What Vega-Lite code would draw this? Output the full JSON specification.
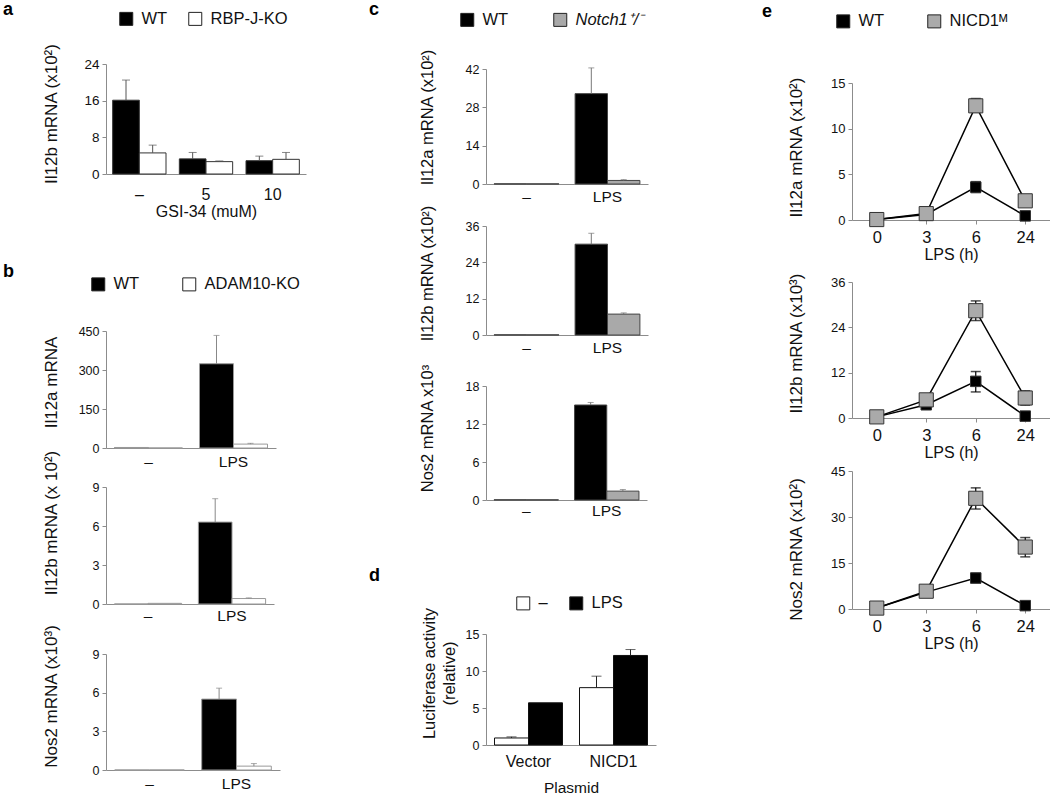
{
  "$schema": "https://vega.github.io/schema/vega-lite/v6.json",
  "padding": {"left": 3, "top": 0, "right": 5, "bottom": 5},
  "background": "#ffffff",
  "config": {
    "font": "Liberation Sans",
    "view": {"stroke": null},
    "axis": {"domainColor": "#8c8c8c", "tickColor": "#8c8c8c", "labelColor": "#111111", "titleColor": "#111111", "labelFont": "Liberation Sans", "titleFont": "Liberation Sans", "titleFontWeight": "normal", "grid": false, "tickSize": 4, "labelPadding": 3},
    "axisX": {"labelAngle": 0},
    "axisBand": {"ticks": false},
    "legend": {"orient": "none", "direction": "horizontal", "symbolType": "square", "symbolSize": 169, "symbolStrokeColor": "#222222", "symbolStrokeWidth": 1, "labelFont": "Liberation Sans", "labelFontSize": 16.5, "labelColor": "#111111", "labelOffset": 7, "padding": 0},
    "title": {"font": "Liberation Sans", "fontSize": 18, "fontWeight": "bold", "anchor": "start", "frame": "group", "color": "#000000"}
  },
  "datasets": {
    "a": [
      {"cat": "–", "grp": "WT", "v": 16.1, "hi": 20.5},
      {"cat": "–", "grp": "RBP-J-KO", "v": 4.6, "hi": 6.3},
      {"cat": "5", "grp": "WT", "v": 3.3, "hi": 4.7},
      {"cat": "5", "grp": "RBP-J-KO", "v": 2.7, "hi": 2.85},
      {"cat": "10", "grp": "WT", "v": 2.9, "hi": 3.9},
      {"cat": "10", "grp": "RBP-J-KO", "v": 3.2, "hi": 4.7}
    ],
    "b1": [
      {"cat": "–", "grp": "WT", "v": 2, "hi": 2},
      {"cat": "–", "grp": "ADAM10-KO", "v": 0, "hi": 0},
      {"cat": "LPS", "grp": "WT", "v": 324, "hi": 433},
      {"cat": "LPS", "grp": "ADAM10-KO", "v": 15, "hi": 18}
    ],
    "b2": [
      {"cat": "–", "grp": "WT", "v": 0, "hi": 0},
      {"cat": "–", "grp": "ADAM10-KO", "v": 0.05, "hi": 0.05},
      {"cat": "LPS", "grp": "WT", "v": 6.3, "hi": 8.1},
      {"cat": "LPS", "grp": "ADAM10-KO", "v": 0.42, "hi": 0.47}
    ],
    "b3": [
      {"cat": "–", "grp": "WT", "v": 0, "hi": 0},
      {"cat": "–", "grp": "ADAM10-KO", "v": 0, "hi": 0},
      {"cat": "LPS", "grp": "WT", "v": 5.5, "hi": 6.35},
      {"cat": "LPS", "grp": "ADAM10-KO", "v": 0.3, "hi": 0.5}
    ],
    "c1": [
      {"cat": "–", "grp": "WT", "v": 0.05, "hi": 0.05},
      {"cat": "–", "grp": "Notch1⁺/⁻", "v": 0.05, "hi": 0.05},
      {"cat": "LPS", "grp": "WT", "v": 33, "hi": 42.4},
      {"cat": "LPS", "grp": "Notch1⁺/⁻", "v": 1.3, "hi": 1.6}
    ],
    "c2": [
      {"cat": "–", "grp": "WT", "v": 0.05, "hi": 0.05},
      {"cat": "–", "grp": "Notch1⁺/⁻", "v": 0.05, "hi": 0.05},
      {"cat": "LPS", "grp": "WT", "v": 30, "hi": 33.6},
      {"cat": "LPS", "grp": "Notch1⁺/⁻", "v": 6.9, "hi": 7.3}
    ],
    "c3": [
      {"cat": "–", "grp": "WT", "v": 0.03, "hi": 0.03},
      {"cat": "–", "grp": "Notch1⁺/⁻", "v": 0.03, "hi": 0.03},
      {"cat": "LPS", "grp": "WT", "v": 15, "hi": 15.4},
      {"cat": "LPS", "grp": "Notch1⁺/⁻", "v": 1.4, "hi": 1.65}
    ],
    "d": [
      {"cat": "Vector", "grp": "–", "v": 0.95, "hi": 1.1},
      {"cat": "Vector", "grp": "LPS", "v": 5.7, "hi": 5.7},
      {"cat": "NICD1", "grp": "–", "v": 7.75, "hi": 9.3},
      {"cat": "NICD1", "grp": "LPS", "v": 12.1, "hi": 12.9}
    ],
    "e1": [
      {"t": "0", "grp": "WT", "v": 0.05, "lo": 0.05, "hi": 0.05},
      {"t": "3", "grp": "WT", "v": 0.6, "lo": 0.6, "hi": 0.6},
      {"t": "6", "grp": "WT", "v": 3.6, "lo": 3.0, "hi": 4.2},
      {"t": "24", "grp": "WT", "v": 0.45, "lo": 0.45, "hi": 0.45},
      {"t": "0", "grp": "NICD1ᴹ", "v": 0.05, "lo": 0.05, "hi": 0.05},
      {"t": "3", "grp": "NICD1ᴹ", "v": 0.7, "lo": 0.7, "hi": 0.7},
      {"t": "6", "grp": "NICD1ᴹ", "v": 12.5, "lo": 11.8, "hi": 13.3},
      {"t": "24", "grp": "NICD1ᴹ", "v": 2.1, "lo": 1.8, "hi": 2.4}
    ],
    "e2": [
      {"t": "0", "grp": "WT", "v": 0.3, "lo": 0.3, "hi": 0.3},
      {"t": "3", "grp": "WT", "v": 3.5, "lo": 3.5, "hi": 3.5},
      {"t": "6", "grp": "WT", "v": 9.7, "lo": 6.9, "hi": 12.3},
      {"t": "24", "grp": "WT", "v": 0.5, "lo": 0.5, "hi": 0.5},
      {"t": "0", "grp": "NICD1ᴹ", "v": 0.3, "lo": 0.3, "hi": 0.3},
      {"t": "3", "grp": "NICD1ᴹ", "v": 4.8, "lo": 4.8, "hi": 4.8},
      {"t": "6", "grp": "NICD1ᴹ", "v": 28.4, "lo": 25.8, "hi": 31},
      {"t": "24", "grp": "NICD1ᴹ", "v": 5.3, "lo": 3.4, "hi": 7.2}
    ],
    "e3": [
      {"t": "0", "grp": "WT", "v": 0.3, "lo": 0.3, "hi": 0.3},
      {"t": "3", "grp": "WT", "v": 5.5, "lo": 5.5, "hi": 5.5},
      {"t": "6", "grp": "WT", "v": 10.1, "lo": 8.6, "hi": 11.6},
      {"t": "24", "grp": "WT", "v": 1.1, "lo": 1.1, "hi": 1.1},
      {"t": "0", "grp": "NICD1ᴹ", "v": 0.3, "lo": 0.3, "hi": 0.3},
      {"t": "3", "grp": "NICD1ᴹ", "v": 5.8, "lo": 5.8, "hi": 5.8},
      {"t": "6", "grp": "NICD1ᴹ", "v": 36.1, "lo": 32.6, "hi": 39.5},
      {"t": "24", "grp": "NICD1ᴹ", "v": 20.2, "lo": 17, "hi": 23.3}
    ],
    "sp": [{"s": 0}]
  },
  "resolve": {"scale": {"fill": "independent", "xOffset": "independent"}, "legend": {"fill": "independent"}},
  "spacing": 63,
  "hconcat": [
    {
      "vconcat": [
        {
          "width": 200, "height": 110,
          "data": {"name": "a"},
          "title": {"text": "a", "dx": -103, "offset": -8},
          "encoding": {
            "x": {"field": "cat", "type": "nominal", "sort": ["–", "5", "10"], "scale": {"type": "band", "paddingInner": 0.2, "paddingOuter": 0.1}, "axis": {"title": "GSI-34 (muM)", "labelFontSize": 16, "labelPadding": 12, "titleFontSize": 16, "titlePadding": 1}},
            "xOffset": {"field": "grp", "type": "nominal", "sort": ["WT", "RBP-J-KO"], "scale": {"type": "band", "paddingInner": 0, "paddingOuter": 0}},
            "y": {"field": "v", "type": "quantitative", "scale": {"domain": [0, 24], "nice": false}, "axis": {"values": [0, 8, 16, 24], "title": "Il12b mRNA (x10²)", "labelFontSize": 13.5, "titleFontSize": 17, "titleX": -45.5, "titleY": 49.5}}
          },
          "layer": [
            {"mark": {"type": "bar", "stroke": "#333333", "strokeWidth": 1}, "encoding": {"fill": {"field": "grp", "type": "nominal", "sort": ["WT", "RBP-J-KO"], "scale": {"domain": ["WT", "RBP-J-KO"], "range": ["#000000", "#ffffff"]}, "legend": {"title": null, "orient": "none", "legendX": 12, "legendY": -53.5, "columnPadding": 18}}}},
            {"transform": [{"filter": "datum.hi > datum.v"}], "mark": {"type": "rule", "color": "#555555", "strokeWidth": 1}, "encoding": {"y2": {"field": "hi"}}},
            {"transform": [{"filter": "datum.hi > datum.v"}], "mark": {"type": "tick", "color": "#555555", "size": 8, "thickness": 1}, "encoding": {"y": {"field": "hi", "type": "quantitative"}}}
          ]
        },
        {"width": 10, "height": 157, "data": {"name": "sp"}, "mark": {"type": "point", "opacity": 0}},
        {
          "width": 170, "height": 117,
          "data": {"name": "b1"},
          "title": {"text": "b", "dx": -103, "offset": -5},
          "encoding": {
            "x": {"field": "cat", "type": "nominal", "sort": ["–", "LPS"], "scale": {"type": "band", "paddingInner": 0.2, "paddingOuter": 0.1}, "axis": {"title": null, "labelFontSize": 15.5, "labelPadding": 6.5}},
            "xOffset": {"field": "grp", "type": "nominal", "sort": ["WT", "ADAM10-KO"], "scale": {"type": "band", "paddingInner": 0, "paddingOuter": 0}},
            "y": {"field": "v", "type": "quantitative", "scale": {"domain": [0, 450], "nice": false}, "axis": {"values": [0, 150, 300, 450], "title": "Il12a mRNA", "labelFontSize": 12.5, "titleFontSize": 17, "titleX": -45.5, "titleY": 51}}
          },
          "layer": [
            {"mark": {"type": "bar", "stroke": "#999999", "strokeWidth": 1}, "encoding": {"fill": {"field": "grp", "type": "nominal", "sort": ["WT", "ADAM10-KO"], "scale": {"domain": ["WT", "ADAM10-KO"], "range": ["#000000", "#ffffff"]}, "legend": {"title": null, "orient": "none", "legendX": -16, "legendY": -55, "columnPadding": 40}}}},
            {"transform": [{"filter": "datum.hi > datum.v"}], "mark": {"type": "rule", "color": "#888888", "strokeWidth": 1}, "encoding": {"y2": {"field": "hi"}}},
            {"transform": [{"filter": "datum.hi > datum.v"}], "mark": {"type": "tick", "color": "#888888", "size": 6, "thickness": 1}, "encoding": {"y": {"field": "hi", "type": "quantitative"}}}
          ]
        },
        {"width": 10, "height": 39, "data": {"name": "sp"}, "mark": {"type": "point", "opacity": 0}},
        {
          "width": 168, "height": 117,
          "data": {"name": "b2"},
          "encoding": {
            "x": {"field": "cat", "type": "nominal", "sort": ["–", "LPS"], "scale": {"type": "band", "paddingInner": 0.2, "paddingOuter": 0.1}, "axis": {"title": null, "labelFontSize": 15.5, "labelPadding": 4.7}},
            "xOffset": {"field": "grp", "type": "nominal", "sort": ["WT", "ADAM10-KO"], "scale": {"type": "band", "paddingInner": 0, "paddingOuter": 0}},
            "y": {"field": "v", "type": "quantitative", "scale": {"domain": [0, 9], "nice": false}, "axis": {"values": [0, 3, 6, 9], "title": "Il12b mRNA (x 10²)", "labelFontSize": 12.5, "titleFontSize": 17, "titleX": -45.5, "titleY": 35.5}}
          },
          "layer": [
            {"mark": {"type": "bar", "stroke": "#999999", "strokeWidth": 1}, "encoding": {"fill": {"field": "grp", "type": "nominal", "sort": ["WT", "ADAM10-KO"], "scale": {"domain": ["WT", "ADAM10-KO"], "range": ["#000000", "#ffffff"]}, "legend": null}}},
            {"transform": [{"filter": "datum.hi > datum.v"}], "mark": {"type": "rule", "color": "#888888", "strokeWidth": 1}, "encoding": {"y2": {"field": "hi"}}},
            {"transform": [{"filter": "datum.hi > datum.v"}], "mark": {"type": "tick", "color": "#888888", "size": 6, "thickness": 1}, "encoding": {"y": {"field": "hi", "type": "quantitative"}}}
          ]
        },
        {"width": 10, "height": 50, "data": {"name": "sp"}, "mark": {"type": "point", "opacity": 0}},
        {
          "width": 174, "height": 116,
          "data": {"name": "b3"},
          "encoding": {
            "x": {"field": "cat", "type": "nominal", "sort": ["–", "LPS"], "scale": {"type": "band", "paddingInner": 0.2, "paddingOuter": 0.1}, "axis": {"title": null, "labelFontSize": 15.5, "labelPadding": 6.7}},
            "xOffset": {"field": "grp", "type": "nominal", "sort": ["WT", "ADAM10-KO"], "scale": {"type": "band", "paddingInner": 0, "paddingOuter": 0}},
            "y": {"field": "v", "type": "quantitative", "scale": {"domain": [0, 9], "nice": false}, "axis": {"values": [0, 3, 6, 9], "title": "Nos2 mRNA (x10³)", "labelFontSize": 12.5, "titleFontSize": 17, "titleX": -45.5, "titleY": 42}}
          },
          "layer": [
            {"mark": {"type": "bar", "stroke": "#999999", "strokeWidth": 1}, "encoding": {"fill": {"field": "grp", "type": "nominal", "sort": ["WT", "ADAM10-KO"], "scale": {"domain": ["WT", "ADAM10-KO"], "range": ["#000000", "#ffffff"]}, "legend": null}}},
            {"transform": [{"filter": "datum.hi > datum.v"}], "mark": {"type": "rule", "color": "#888888", "strokeWidth": 1}, "encoding": {"y2": {"field": "hi"}}},
            {"transform": [{"filter": "datum.hi > datum.v"}], "mark": {"type": "tick", "color": "#888888", "size": 6, "thickness": 1}, "encoding": {"y": {"field": "hi", "type": "quantitative"}}}
          ]
        }
      ],
      "spacing": 0,
      "bounds": "flush",
      "resolve": {"scale": {"fill": "independent", "xOffset": "independent"}, "legend": {"fill": "independent"}}
    },
    {
      "spacing": 106,
      "resolve": {"scale": {"fill": "independent", "xOffset": "independent"}, "legend": {"fill": "independent"}},
      "hconcat": [
        {
          "vconcat": [
            {"width": 10, "height": 5, "data": {"name": "sp"}, "mark": {"type": "point", "opacity": 0}},
            {
              "width": 162, "height": 115,
              "data": {"name": "c1"},
              "title": {"text": "c", "dx": -117, "offset": -7},
              "encoding": {
                "x": {"field": "cat", "type": "nominal", "sort": ["–", "LPS"], "scale": {"type": "band", "paddingInner": 0.2, "paddingOuter": 0.1}, "axis": {"title": null, "labelFontSize": 15.5, "labelPadding": 5.7}},
                "xOffset": {"field": "grp", "type": "nominal", "sort": ["WT", "Notch1⁺/⁻"], "scale": {"type": "band", "paddingInner": 0, "paddingOuter": 0}},
                "y": {"field": "v", "type": "quantitative", "scale": {"domain": [0, 42], "nice": false}, "axis": {"values": [0, 14, 28, 42], "title": "Il12a mRNA (x10²)", "labelFontSize": 12.5, "titleFontSize": 16.5, "titleX": -50.7, "titleY": 48}}
              },
              "layer": [
                {"mark": {"type": "bar", "stroke": "#444444", "strokeWidth": 1}, "encoding": {"fill": {"field": "grp", "type": "nominal", "sort": ["WT", "Notch1⁺/⁻"], "scale": {"domain": ["WT", "Notch1⁺/⁻"], "range": ["#000000", "#a9a9a9"]}, "legend": {"title": null, "orient": "none", "legendX": -27, "legendY": -57.5, "columnPadding": 42, "encode": {"labels": {"update": {"fontStyle": {"signal": "datum.label == 'WT' ? 'normal' : 'italic'"}}}}}}}},
                {"transform": [{"filter": "datum.hi > datum.v"}], "mark": {"type": "rule", "color": "#777777", "strokeWidth": 1}, "encoding": {"y2": {"field": "hi"}}},
                {"transform": [{"filter": "datum.hi > datum.v"}], "mark": {"type": "tick", "color": "#777777", "size": 6, "thickness": 1}, "encoding": {"y": {"field": "hi", "type": "quantitative"}}}
              ]
            },
            {"width": 10, "height": 42, "data": {"name": "sp"}, "mark": {"type": "point", "opacity": 0}},
            {
              "width": 162, "height": 109,
              "data": {"name": "c2"},
              "encoding": {
                "x": {"field": "cat", "type": "nominal", "sort": ["–", "LPS"], "scale": {"type": "band", "paddingInner": 0.2, "paddingOuter": 0.1}, "axis": {"title": null, "labelFontSize": 15.5, "labelPadding": 5.7}},
                "xOffset": {"field": "grp", "type": "nominal", "sort": ["WT", "Notch1⁺/⁻"], "scale": {"type": "band", "paddingInner": 0, "paddingOuter": 0}},
                "y": {"field": "v", "type": "quantitative", "scale": {"domain": [0, 36], "nice": false}, "axis": {"values": [0, 12, 24, 36], "title": "Il12b mRNA (x10²)", "labelFontSize": 12.5, "titleFontSize": 16.5, "titleX": -50.7, "titleY": 47}}
              },
              "layer": [
                {"mark": {"type": "bar", "stroke": "#444444", "strokeWidth": 1}, "encoding": {"fill": {"field": "grp", "type": "nominal", "sort": ["WT", "Notch1⁺/⁻"], "scale": {"domain": ["WT", "Notch1⁺/⁻"], "range": ["#000000", "#a9a9a9"]}, "legend": null}}},
                {"transform": [{"filter": "datum.hi > datum.v"}], "mark": {"type": "rule", "color": "#777777", "strokeWidth": 1}, "encoding": {"y2": {"field": "hi"}}},
                {"transform": [{"filter": "datum.hi > datum.v"}], "mark": {"type": "tick", "color": "#777777", "size": 6, "thickness": 1}, "encoding": {"y": {"field": "hi", "type": "quantitative"}}}
              ]
            },
            {"width": 10, "height": 51, "data": {"name": "sp"}, "mark": {"type": "point", "opacity": 0}},
            {
              "width": 161, "height": 114,
              "data": {"name": "c3"},
              "encoding": {
                "x": {"field": "cat", "type": "nominal", "sort": ["–", "LPS"], "scale": {"type": "band", "paddingInner": 0.2, "paddingOuter": 0.1}, "axis": {"title": null, "labelFontSize": 15.5, "labelPadding": 3.7}},
                "xOffset": {"field": "grp", "type": "nominal", "sort": ["WT", "Notch1⁺/⁻"], "scale": {"type": "band", "paddingInner": 0, "paddingOuter": 0}},
                "y": {"field": "v", "type": "quantitative", "scale": {"domain": [0, 18], "nice": false}, "axis": {"values": [0, 6, 12, 18], "title": "Nos2 mRNA x10³", "labelFontSize": 12.5, "titleFontSize": 16.5, "titleX": -50.7, "titleY": 42}}
              },
              "layer": [
                {"mark": {"type": "bar", "stroke": "#444444", "strokeWidth": 1}, "encoding": {"fill": {"field": "grp", "type": "nominal", "sort": ["WT", "Notch1⁺/⁻"], "scale": {"domain": ["WT", "Notch1⁺/⁻"], "range": ["#000000", "#a9a9a9"]}, "legend": null}}},
                {"transform": [{"filter": "datum.hi > datum.v"}], "mark": {"type": "rule", "color": "#777777", "strokeWidth": 1}, "encoding": {"y2": {"field": "hi"}}},
                {"transform": [{"filter": "datum.hi > datum.v"}], "mark": {"type": "tick", "color": "#777777", "size": 6, "thickness": 1}, "encoding": {"y": {"field": "hi", "type": "quantitative"}}}
              ]
            },
            {"width": 10, "height": 134, "data": {"name": "sp"}, "mark": {"type": "point", "opacity": 0}},
            {
              "width": 170, "height": 111,
              "data": {"name": "d"},
              "title": {"text": "d", "dx": -117, "offset": 10},
              "encoding": {
                "x": {"field": "cat", "type": "nominal", "sort": ["Vector", "NICD1"], "scale": {"type": "band", "paddingInner": 0.2, "paddingOuter": 0.1}, "axis": {"title": "Plasmid", "labelFontSize": 16, "labelPadding": 8.4, "titleFontSize": 15.5, "titlePadding": 11}},
                "xOffset": {"field": "grp", "type": "nominal", "sort": ["–", "LPS"], "scale": {"type": "band", "paddingInner": 0, "paddingOuter": 0}},
                "y": {"field": "v", "type": "quantitative", "scale": {"domain": [0, 15], "nice": false}, "axis": {"values": [0, 5, 10, 15], "title": ["Luciferase activity", "(relative)"], "labelFontSize": 12.5, "titleFontSize": 16.5, "titleLineHeight": 20, "titleX": -48.7, "titleY": 39}}
              },
              "layer": [
                {"mark": {"type": "bar", "stroke": "#111111", "strokeWidth": 1}, "encoding": {"fill": {"field": "grp", "type": "nominal", "sort": ["–", "LPS"], "scale": {"domain": ["–", "LPS"], "range": ["#ffffff", "#000000"]}, "legend": {"title": null, "orient": "none", "legendX": 29, "legendY": -39, "columnPadding": 19}}}},
                {"transform": [{"filter": "datum.hi > datum.v"}], "mark": {"type": "rule", "color": "#222222", "strokeWidth": 1}, "encoding": {"y2": {"field": "hi"}}},
                {"transform": [{"filter": "datum.hi > datum.v"}], "mark": {"type": "tick", "color": "#222222", "size": 10, "thickness": 1}, "encoding": {"y": {"field": "hi", "type": "quantitative"}}}
              ]
            }
          ],
          "spacing": 0,
          "bounds": "flush",
          "resolve": {"scale": {"fill": "independent", "xOffset": "independent"}, "legend": {"fill": "independent"}}
        },
        {
          "vconcat": [
            {"width": 10, "height": 19, "data": {"name": "sp"}, "mark": {"type": "point", "opacity": 0}},
            {
              "width": 198, "height": 137,
              "data": {"name": "e1"},
              "title": {"text": "e", "dx": -90, "offset": -8},
              "encoding": {
                "x": {"field": "t", "type": "ordinal", "sort": ["0", "3", "6", "24"], "scale": {"type": "point", "padding": 0.5}, "axis": {"title": "LPS (h)", "ticks": true, "tickSize": 4, "labelFontSize": 16.5, "labelPadding": 5, "titleFontSize": 16, "titlePadding": 1}},
                "y": {"field": "v", "type": "quantitative", "scale": {"domain": [0, 15], "nice": false}, "axis": {"values": [0, 5, 10, 15], "title": "Il12a mRNA (x10²)", "labelFontSize": 13, "titleFontSize": 17, "titleX": -46.5, "titleY": 64}}
              },
              "layer": [
                {"mark": {"type": "line", "color": "#000000", "strokeWidth": 1.5}, "encoding": {"detail": {"field": "grp"}}},
                {"transform": [{"filter": "datum.hi > datum.lo"}], "mark": {"type": "rule", "color": "#000000", "strokeWidth": 1.2}, "encoding": {"y": {"field": "lo", "type": "quantitative"}, "y2": {"field": "hi"}}},
                {"transform": [{"filter": "datum.hi > datum.lo"}], "mark": {"type": "tick", "color": "#000000", "size": 10, "thickness": 1.5}, "encoding": {"y": {"field": "hi", "type": "quantitative"}}},
                {"transform": [{"filter": "datum.hi > datum.lo"}], "mark": {"type": "tick", "color": "#000000", "size": 10, "thickness": 1.5}, "encoding": {"y": {"field": "lo", "type": "quantitative"}}},
                {"mark": {"type": "point", "shape": "square", "filled": true, "stroke": "#333333", "strokeWidth": 1, "opacity": 1}, "encoding": {"fill": {"field": "grp", "type": "nominal", "sort": ["WT", "NICD1ᴹ"], "scale": {"domain": ["WT", "NICD1ᴹ"], "range": ["#000000", "#aaaaaa"]}, "legend": {"title": null, "orient": "none", "legendX": -17, "legendY": -70, "columnPadding": 40, "symbolSize": 169}}, "size": {"condition": {"test": "datum.grp == 'WT'", "value": 110}, "value": 200}}}
              ]
            },
            {"width": 10, "height": 62, "data": {"name": "sp"}, "mark": {"type": "point", "opacity": 0}},
            {
              "width": 198, "height": 136,
              "data": {"name": "e2"},
              "encoding": {
                "x": {"field": "t", "type": "ordinal", "sort": ["0", "3", "6", "24"], "scale": {"type": "point", "padding": 0.5}, "axis": {"title": "LPS (h)", "ticks": true, "tickSize": 4, "labelFontSize": 16.5, "labelPadding": 5, "titleFontSize": 16, "titlePadding": 1}},
                "y": {"field": "v", "type": "quantitative", "scale": {"domain": [0, 36], "nice": false}, "axis": {"values": [0, 12, 24, 36], "title": "Il12b mRNA (x10³)", "labelFontSize": 13, "titleFontSize": 17, "titleX": -46.5, "titleY": 61}}
              },
              "layer": [
                {"mark": {"type": "line", "color": "#000000", "strokeWidth": 1.5}, "encoding": {"detail": {"field": "grp"}}},
                {"transform": [{"filter": "datum.hi > datum.lo"}], "mark": {"type": "rule", "color": "#000000", "strokeWidth": 1.2}, "encoding": {"y": {"field": "lo", "type": "quantitative"}, "y2": {"field": "hi"}}},
                {"transform": [{"filter": "datum.hi > datum.lo"}], "mark": {"type": "tick", "color": "#000000", "size": 10, "thickness": 1.5}, "encoding": {"y": {"field": "hi", "type": "quantitative"}}},
                {"transform": [{"filter": "datum.hi > datum.lo"}], "mark": {"type": "tick", "color": "#000000", "size": 10, "thickness": 1.5}, "encoding": {"y": {"field": "lo", "type": "quantitative"}}},
                {"mark": {"type": "point", "shape": "square", "filled": true, "stroke": "#333333", "strokeWidth": 1, "opacity": 1}, "encoding": {"fill": {"field": "grp", "type": "nominal", "sort": ["WT", "NICD1ᴹ"], "scale": {"domain": ["WT", "NICD1ᴹ"], "range": ["#000000", "#aaaaaa"]}, "legend": null}, "size": {"condition": {"test": "datum.grp == 'WT'", "value": 110}, "value": 200}}}
              ]
            },
            {"width": 10, "height": 53, "data": {"name": "sp"}, "mark": {"type": "point", "opacity": 0}},
            {
              "width": 198, "height": 138,
              "data": {"name": "e3"},
              "encoding": {
                "x": {"field": "t", "type": "ordinal", "sort": ["0", "3", "6", "24"], "scale": {"type": "point", "padding": 0.5}, "axis": {"title": "LPS (h)", "ticks": true, "tickSize": 4, "labelFontSize": 16.5, "labelPadding": 5, "titleFontSize": 16, "titlePadding": 1}},
                "y": {"field": "v", "type": "quantitative", "scale": {"domain": [0, 45], "nice": false}, "axis": {"values": [0, 15, 30, 45], "title": "Nos2 mRNA (x10²)", "labelFontSize": 13, "titleFontSize": 17, "titleX": -46.5, "titleY": 78}}
              },
              "layer": [
                {"mark": {"type": "line", "color": "#000000", "strokeWidth": 1.5}, "encoding": {"detail": {"field": "grp"}}},
                {"transform": [{"filter": "datum.hi > datum.lo"}], "mark": {"type": "rule", "color": "#000000", "strokeWidth": 1.2}, "encoding": {"y": {"field": "lo", "type": "quantitative"}, "y2": {"field": "hi"}}},
                {"transform": [{"filter": "datum.hi > datum.lo"}], "mark": {"type": "tick", "color": "#000000", "size": 10, "thickness": 1.5}, "encoding": {"y": {"field": "hi", "type": "quantitative"}}},
                {"transform": [{"filter": "datum.hi > datum.lo"}], "mark": {"type": "tick", "color": "#000000", "size": 10, "thickness": 1.5}, "encoding": {"y": {"field": "lo", "type": "quantitative"}}},
                {"mark": {"type": "point", "shape": "square", "filled": true, "stroke": "#333333", "strokeWidth": 1, "opacity": 1}, "encoding": {"fill": {"field": "grp", "type": "nominal", "sort": ["WT", "NICD1ᴹ"], "scale": {"domain": ["WT", "NICD1ᴹ"], "range": ["#000000", "#aaaaaa"]}, "legend": null}, "size": {"condition": {"test": "datum.grp == 'WT'", "value": 110}, "value": 200}}}
              ]
            }
          ],
          "spacing": 0,
          "bounds": "flush",
          "resolve": {"scale": {"fill": "independent"}, "legend": {"fill": "independent"}}
        }
      ]
    }
  ]
}
